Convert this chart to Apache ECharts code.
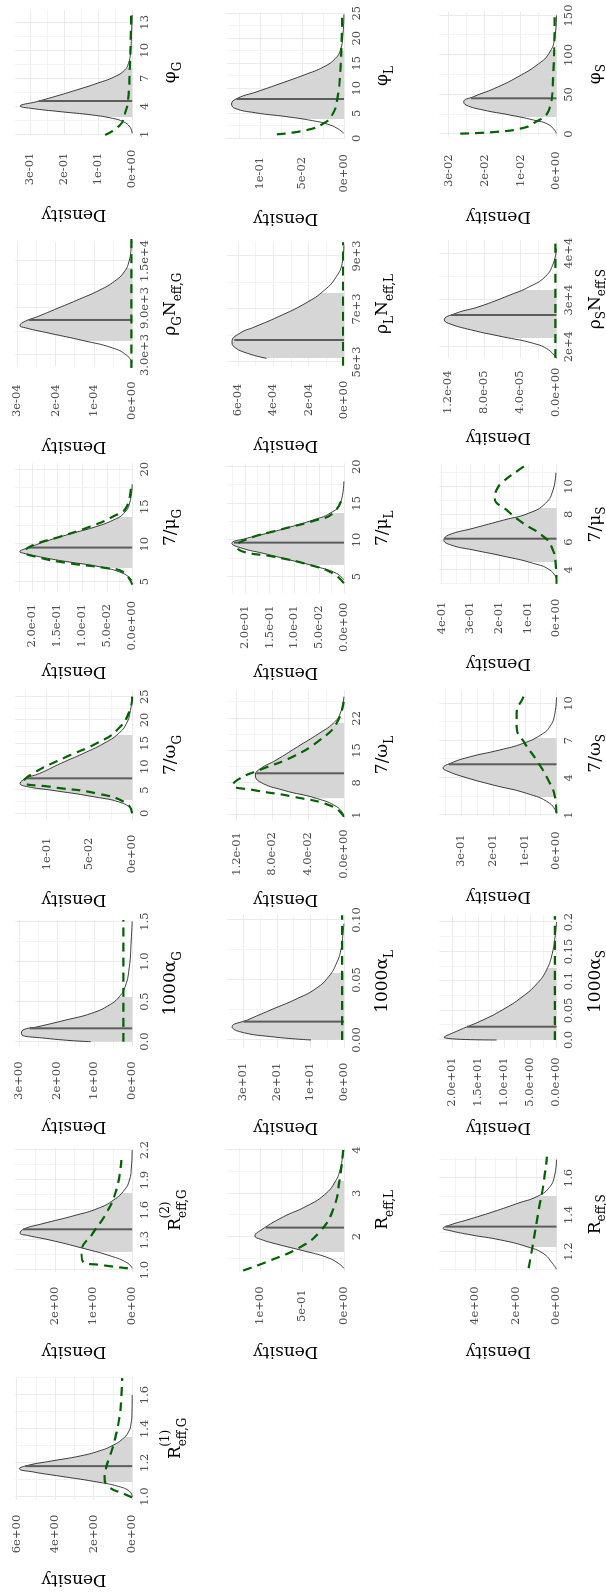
<!DOCTYPE html>
<html>
<head>
<meta charset="utf-8">
<script src="https://cdn.jsdelivr.net/npm/echarts@6.0.0/dist/echarts.min.js"></script>
<style>
html, body { margin: 0; padding: 0; background: #fff; }
#page { position: relative; width: 606px; height: 1596px; overflow: hidden; background: #fff; }
/* the figure is laid out landscape and turned a quarter turn to fit the page */
#chart { position: absolute; left: 0; top: 0; width: 1596px; height: 606px;
         transform-origin: 0 0; transform: translate(0px, 1596px) rotate(-90deg); }
</style>
</head>
<body>
<div id="page"><div id="chart"></div></div>
<script>
// ---------------- posterior densities [value, density] ----------------
const R1G_post = [[1.0,0],[1.03,0.12],[1.06,0.7],[1.09,2.0],[1.12,3.7],[1.145,5.1],[1.165,5.85],[1.185,5.4],[1.21,4.2],[1.24,2.7],[1.27,1.7],[1.3,1.05],[1.34,0.5],[1.38,0.2],[1.43,0.06],[1.5,0.01],[1.6,0]];
const R2G_post = [[1.017,0],[1.067,0.11],[1.133,0.5],[1.217,1.27],[1.3,2.13],[1.345,2.7],[1.37,2.9],[1.41,2.8],[1.46,2.35],[1.55,1.44],[1.617,0.88],[1.7,0.48],[1.8,0.2],[1.9,0.07],[2.03,0.02],[2.2,0]];
const aG_post = [[0,1.1],[0.042,2.28],[0.1,2.94],[0.146,2.9],[0.1875,2.5],[0.27,1.77],[0.355,1.08],[0.46,0.6],[0.5625,0.34],[0.6875,0.185],[0.9375,0.075],[1.27,0.025],[1.5,0]];
const wG_post = [[0.7,0],[2.14,0.0105],[3.57,0.0456],[5.0,0.096],[5.7,0.122],[6.43,0.131],[7.5,0.124],[8.57,0.108],[10.7,0.0835],[12.85,0.057],[15,0.033],[17.1,0.016],[19.3,0.0065],[22.1,0.002],[25,0]];
const mG_post = [[5.2,0],[6.1,0.018],[7.0,0.066],[7.67,0.13],[8.34,0.186],[8.8,0.217],[9.0,0.224],[9.5,0.208],[10.57,0.164],[11.5,0.117],[12.35,0.072],[13.25,0.037],[14.1,0.017],[15.5,0.005],[18,0]];
const nG_post = [[2072,0],[3000,0.15e-4],[3914,0.52e-4],[4842,1.28e-4],[5770,2.15e-4],[6462,2.78e-4],[6780,2.93e-4],[7300,2.8e-4],[7850,2.5e-4],[9000,1.93e-4],[10150,1.37e-4],[11310,0.84e-4],[12460,0.45e-4],[13610,0.21e-4],[15000,0.08e-4],[17000,0.02e-4],[18200,0]];
const pG_post = [[1.11,0],[1.81,0.007],[2.35,0.026],[2.71,0.058],[3.07,0.118],[3.42,0.21],[3.79,0.3],[4.03,0.33],[4.49,0.283],[5.03,0.23],[5.75,0.164],[6.47,0.103],[7.17,0.052],[7.89,0.022],[8.6,0.011],[9.68,0.005],[11.8,0.002],[13.8,0]];

const RL_post = [[1.27,0],[1.38,0.06],[1.53,0.21],[1.67,0.47],[1.83,0.8],[1.94,0.99],[2.02,1.06],[2.15,0.99],[2.46,0.72],[2.7,0.45],[2.97,0.23],[3.28,0.1],[3.55,0.045],[3.9,0.01],[4.0,0]];
const aL_post = [[0,9.8],[0.0028,21.9],[0.0069,31.1],[0.011,33.4],[0.0167,28.8],[0.025,21.9],[0.0347,13.8],[0.043,8.3],[0.053,4.5],[0.064,2.2],[0.075,0.9],[0.089,0.25],[0.097,0]];
const wL_post = [[1,0],[2.8,0.008],[4.6,0.0305],[6.4,0.068],[8.2,0.094],[9.7,0.099],[11.1,0.093],[12.9,0.076],[15.8,0.052],[18.7,0.028],[20.9,0.012],[23.1,0.004],[26.7,0]];
const mL_post = [[4.55,0],[5.45,0.015],[6.36,0.055],[7.28,0.109],[8.19,0.163],[8.87,0.205],[9.55,0.226],[10.2,0.198],[10.9,0.156],[11.8,0.107],[12.73,0.062],[13.65,0.028],[15,0.007],[18,0]];
const nL_post = [[5140,4.37e-4],[5328,5.46e-4],[5577,6.22e-4],[5766,6.33e-4],[6083,5.89e-4],[6332,5.02e-4],[6709,3.71e-4],[7215,2.18e-4],[7717,1.09e-4],[8219,0.43e-4],[8725,0.1e-4],[9400,0]];
const pL_post = [[1.0,0],[2.0,0.008],[2.86,0.02],[3.52,0.037],[4.32,0.068],[5.12,0.106],[6.0,0.13],[6.86,0.134],[8.0,0.127],[9.3,0.104],[11.0,0.075],[12.7,0.047],[14.3,0.024],[16,0.01],[17.7,0.004],[21,0.001],[24.8,0]];

const RS_post = [[1.104,0],[1.137,0.2],[1.19,0.65],[1.227,1.45],[1.264,2.77],[1.291,4.2],[1.314,5.23],[1.327,5.57],[1.345,5.23],[1.372,4.41],[1.417,3.1],[1.463,1.9],[1.5,0.95],[1.545,0.38],[1.61,0.1],[1.7,0]];
const aS_post = [[0,11.5],[0.0046,21.6],[0.017,18.6],[0.034,14.1],[0.051,10.4],[0.073,6.6],[0.096,3.7],[0.119,1.9],[0.147,0.8],[0.18,0.2],[0.2,0]];
const wS_post = [[1.14,0],[1.94,0.021],[2.75,0.095],[3.42,0.2],[4.09,0.295],[4.57,0.347],[4.77,0.358],[5.17,0.335],[5.7,0.272],[6.24,0.18],[6.78,0.105],[7.45,0.05],[8.12,0.021],[9.2,0.005],[10.5,0]];
const mS_post = [[3.4,0],[4.0,0.023],[4.48,0.081],[5.0,0.186],[5.44,0.29],[5.8,0.368],[6.16,0.392],[6.52,0.375],[7.0,0.29],[7.6,0.182],[8.08,0.097],[8.8,0.038],[9.75,0.012],[11.0,0.002]];
const nS_post = [[17500,0],[19300,0.086e-4],[20730,0.258e-4],[22140,0.6e-4],[23580,0.944e-4],[25010,1.2e-4],[25720,1.245e-4],[27150,1.117e-4],[28570,0.86e-4],[31070,0.516e-4],[32850,0.3e-4],[35000,0.125e-4],[37860,0.035e-4],[41000,0]];
const pS_post = [[0.9,0],[11.4,0.002],[17.7,0.0064],[24,0.0129],[30.4,0.0204],[36.7,0.0252],[40.9,0.0258],[47.2,0.0231],[57.8,0.0172],[72.5,0.0107],[89.5,0.0048],[102,0.0021],[121,0.0005],[150,0]];

// ---------------- prior densities [value, density] ----------------
const R1G_prior = [[0.995,0],[1.02,0.5],[1.054,1.17],[1.107,1.43],[1.176,1.34],[1.235,1.17],[1.33,0.91],[1.47,0.66],[1.57,0.57],[1.7,0.52]];
const R2G_prior = [[1.017,0.11],[1.05,0.8],[1.083,1.27],[1.183,1.31],[1.367,1.02],[1.567,0.67],[1.8,0.41],[2.1,0.28]];
const aG_prior = [[0,0.235],[1.52,0.235]];
const wG_prior = [[0,0],[2.14,0.0065],[4.28,0.0416],[5.7,0.096],[6.78,0.127],[8.57,0.116],[12.1,0.077],[15,0.0416],[17.8,0.018],[22.1,0.0027],[25,0]];
const mG_prior = [[4.6,0],[6.3,0.018],[6.8,0.05],[7.5,0.13],[8.3,0.19],[9.0,0.214],[9.9,0.197],[11.0,0.144],[12.35,0.084],[13.7,0.038],[15,0.011],[18,0.002]];
const nG_prior = [[1300,0.02e-4],[17880,0.02e-4]];
const pG_prior = [[0.93,0.08],[1.99,0.036],[3.25,0.021],[4.67,0.012],[8.2,0.007],[11.7,0.004],[13.8,0.003]];

const RL_prior = [[1.22,1.2],[1.45,0.88],[1.76,0.52],[2.11,0.29],[2.62,0.13],[3.31,0.05],[4.0,0.01]];
const aL_prior = [[0,0.5],[0.104,0.5]];
const wL_prior = [[0.6,0],[2.8,0.012],[4.98,0.0567],[6.43,0.1013],[7.52,0.124],[8.97,0.116],[10.8,0.094],[13.7,0.0567],[17.3,0.0268],[20.9,0.0082],[26,0]];
const mL_prior = [[4.1,0],[5.45,0.022],[6.6,0.069],[7.73,0.142],[8.4,0.203],[9.1,0.216],[10.1,0.196],[11.4,0.129],[12.73,0.055],[13.65,0.022],[15.9,0.002]];
const nL_prior = [[4860,0.05e-4],[9520,0.05e-4]];
const pL_prior = [[0.8,0.08],[1.66,0.044],[3.0,0.024],[4.66,0.014],[7.66,0.008],[14.3,0.004],[24.4,0.002]];

const RS_prior = [[1.11,1.37],[1.264,1.12],[1.427,0.87],[1.572,0.63],[1.716,0.47]];
const aS_prior = [[0,0.3],[0.21,0.3]];
const wS_prior = [[1.14,0],[2.48,0.005],[3.82,0.026],[5.43,0.063],[6.78,0.1],[8.12,0.126],[9.2,0.126],[10.5,0.105],[11.0,0.098]];
const mS_prior = [[3.0,0],[4.24,0.002],[5.68,0.017],[6.52,0.052],[7.36,0.116],[8.32,0.174],[9.16,0.215],[9.75,0.209],[10.35,0.186],[11.24,0.128],[11.5,0.11]];
const nS_prior = [[17600,0.013e-4],[42700,0.013e-4]];
const pS_prior = [[0.5,0.0268],[3,0.016],[7.2,0.0097],[13.5,0.0064],[30.4,0.0021],[64,0.001],[150,0.0005]];

// ---------------- 95% interval [lo, hi] and median [value, density] ----------------
const R1G_ci = [1.089, 1.354], R1G_med = [1.18, 5.55];
const R2G_ci = [1.183, 1.767], R2G_med = [1.407, 2.82];
const aG_ci = [0, 0.56],       aG_med = [0.167, 2.72];
const wG_ci = [2.85, 16.8],    wG_med = [7.5, 0.124];
const mG_ci = [6.8, 13.6],     mG_med = [9.55, 0.206];
const nG_ci = [4842, 14080],   nG_med = [7474, 2.7e-4];
const pG_ci = [2.85, 8.15],    pG_med = [4.57, 0.275];
const RL_ci = [1.65, 3.29],    RL_med = [2.21, 0.93];
const aL_ci = [0, 0.0556],     aL_med = [0.0153, 30.0];
const wL_ci = [4.7, 21.0],     wL_med = [10.06, 0.098];
const mL_ci = [6.6, 13.65],    mL_med = [9.64, 0.222];
const nL_ci = [5140, 7592],    nL_med = [5830, 6.2e-4];
const pL_ci = [3.8, 17.5],     pL_med = [7.86, 0.128];
const RS_ci = [1.227, 1.5],    RS_med = [1.336, 5.45];
const aS_ci = [0, 0.1215],     aS_med = [0.0225, 17.2];
const wS_ci = [2.48, 7.19],    wS_med = [5.09, 0.34];
const mS_ci = [4.6, 8.44],     mS_med = [6.25, 0.39];
const nS_ci = [21800, 32140],  nS_med = [26790, 1.17e-4];
const pS_ci = [21.1, 106],     pS_med = [45.2, 0.0238];

// ---------------- tick values and labels ----------------
const R1G_xt = [1.0, 1.2, 1.4, 1.6], R1G_xl = ['1.0', '1.2', '1.4', '1.6'];
const R1G_yt = [0, 2, 4, 6],         R1G_yl = ['0e+00', '2e+00', '4e+00', '6e+00'];
const R2G_xt = [1.0, 1.3, 1.6, 1.9, 2.2], R2G_xl = ['1.0', '1.3', '1.6', '1.9', '2.2'];
const R2G_yt = [0, 1, 2],            R2G_yl = ['0e+00', '1e+00', '2e+00'];
const aG_xt = [0, 0.5, 1, 1.5],      aG_xl = ['0.0', '0.5', '1.0', '1.5'];
const aG_yt = [0, 1, 2, 3],          aG_yl = ['0e+00', '1e+00', '2e+00', '3e+00'];
const wG_xt = [0, 5, 10, 15, 20, 25], wG_xl = ['0', '5', '10', '15', '20', '25'];
const wG_yt = [0, 0.05, 0.1],        wG_yl = ['0e+00', '5e-02', '1e-01'];
const mG_xt = [5, 10, 15, 20],       mG_xl = ['5', '10', '15', '20'];
const mG_yt = [0, 0.05, 0.1, 0.15, 0.2], mG_yl = ['0.0e+00', '5.0e-02', '1.0e-01', '1.5e-01', '2.0e-01'];
const nG_xt = [3000, 9000, 15000],   nG_xl = ['3.0e+3', '9.0e+3', '1.5e+4'];
const nG_yt = [0, 1e-4, 2e-4, 3e-4], nG_yl = ['0e+00', '1e-04', '2e-04', '3e-04'];
const pG_xt = [1, 4, 7, 10, 13],     pG_xl = ['1', '4', '7', '10', '13'];
const pG_yt = [0, 0.1, 0.2, 0.3],    pG_yl = ['0e+00', '1e-01', '2e-01', '3e-01'];

const RL_xt = [2, 3, 4],             RL_xl = ['2', '3', '4'];
const RL_yt = [0, 0.5, 1],           RL_yl = ['0e+00', '5e-01', '1e+00'];
const aL_xt = [0, 0.05, 0.1],        aL_xl = ['0.00', '0.05', '0.10'];
const aL_yt = [0, 10, 20, 30],       aL_yl = ['0e+00', '1e+01', '2e+01', '3e+01'];
const wL_xt = [1, 8, 15, 22],        wL_xl = ['1', '8', '15', '22'];
const wL_yt = [0, 0.04, 0.08, 0.12], wL_yl = ['0.0e+00', '4.0e-02', '8.0e-02', '1.2e-01'];
const mL_xt = [5, 10, 15, 20],       mL_xl = ['5', '10', '15', '20'];
const mL_yt = [0, 0.05, 0.1, 0.15, 0.2], mL_yl = ['0.0e+00', '5.0e-02', '1.0e-01', '1.5e-01', '2.0e-01'];
const nL_xt = [5000, 7000, 9000],    nL_xl = ['5e+3', '7e+3', '9e+3'];
const nL_yt = [0, 2e-4, 4e-4, 6e-4], nL_yl = ['0e+00', '2e-04', '4e-04', '6e-04'];
const pL_xt = [0, 5, 10, 15, 20, 25], pL_xl = ['0', '5', '10', '15', '20', '25'];
const pL_yt = [0, 0.05, 0.1],        pL_yl = ['0e+00', '5e-02', '1e-01'];

const RS_xt = [1.2, 1.4, 1.6],       RS_xl = ['1.2', '1.4', '1.6'];
const RS_yt = [0, 2, 4],             RS_yl = ['0e+00', '2e+00', '4e+00'];
const aS_xt = [0, 0.05, 0.1, 0.15, 0.2], aS_xl = ['0.0', '0.05', '0.1', '0.15', '0.2'];
const aS_yt = [0, 5, 10, 15, 20],    aS_yl = ['0.0e+00', '5.0e+00', '1.0e+01', '1.5e+01', '2.0e+01'];
const wS_xt = [1, 4, 7, 10],         wS_xl = ['1', '4', '7', '10'];
const wS_yt = [0, 0.1, 0.2, 0.3],    wS_yl = ['0e+00', '1e-01', '2e-01', '3e-01'];
const mS_xt = [4, 6, 8, 10],         mS_xl = ['4', '6', '8', '10'];
const mS_yt = [0, 0.1, 0.2, 0.3, 0.4], mS_yl = ['0e+00', '1e-01', '2e-01', '3e-01', '4e-01'];
const nS_xt = [20000, 30000, 40000], nS_xl = ['2e+4', '3e+4', '4e+4'];
const nS_yt = [0, 4e-5, 8e-5, 1.2e-4], nS_yl = ['0.0e+00', '4.0e-05', '8.0e-05', '1.2e-04'];
const pS_xt = [0, 50, 100, 150],     pS_xl = ['0', '50', '100', '150'];
const pS_yt = [0, 0.01, 0.02, 0.03], pS_yl = ['0e+00', '1e-02', '2e-02', '3e-02'];

// ---------------- layout ----------------
// y0/y1: right and left edges of each panel measured from the right of the landscape figure;
// xr: value-axis range, dmax: top of the density axis
const FIG_W = 1596;
const ROW_TOP = { G: 15, L: 226.7, S: 439.3 };
const ROW_H = 118;
const FONT = 'DejaVu Serif';

const panels = [
  { row: 'G', y0: 1376.7, y1: 1500, xr: [0.98, 1.708], dmax: 6.08, post: R1G_post, prior: R1G_prior, ci: R1G_ci, med: R1G_med, xt: R1G_xt, xl: R1G_xl, yt: R1G_yt, yl: R1G_yl, title: '{m|R}{s|eff,G}', sup: '(1)' },
  { row: 'G', y0: 1148, y1: 1272, xr: [0.98, 2.22], dmax: 3.03, post: R2G_post, prior: R2G_prior, ci: R2G_ci, med: R2G_med, xt: R2G_xt, xl: R2G_xl, yt: R2G_yt, yl: R2G_yl, title: '{m|R}{s|eff,G}', sup: '(2)' },
  { row: 'G', y0: 920, y1: 1046.7, xr: [-0.0625, 1.52], dmax: 3.11, post: aG_post, prior: aG_prior, ci: aG_ci, med: aG_med, xt: aG_xt, xl: aG_xl, yt: aG_yt, yl: aG_yl, title: '{m|1000α}{s|G}' },
  { row: 'G', y0: 690, y1: 820, xr: [-1.43, 26.43], dmax: 0.137, post: wG_post, prior: wG_prior, ci: wG_ci, med: wG_med, xt: wG_xt, xl: wG_xl, yt: wG_yt, yl: wG_yl, title: '{m|7/ω}{s|G}' },
  { row: 'G', y0: 463.3, y1: 591.7, xr: [3.66, 20.8], dmax: 0.2337, post: mG_post, prior: mG_prior, ci: mG_ci, med: mG_med, xt: mG_xt, xl: mG_xl, yt: mG_yt, yl: mG_yl, title: '{m|7/μ}{s|G}' },
  { row: 'G', y0: 241.7, y1: 366.7, xr: [1506, 17465], dmax: 3.06e-4, post: nG_post, prior: nG_prior, ci: nG_ci, med: nG_med, xt: nG_xt, xl: nG_xl, yt: nG_yt, yl: nG_yl, title: '{m|ρ}{s|G}{m|N}{s|eff,G}' },
  { row: 'G', y0: 10, y1: 135, xr: [0.925, 14.32], dmax: 0.3456, post: pG_post, prior: pG_prior, ci: pG_ci, med: pG_med, xt: pG_xt, xl: pG_xl, yt: pG_yt, yl: pG_yl, title: '{m|φ}{s|G}' },

  { row: 'L', y0: 1148, y1: 1271.7, xr: [1.193, 4.046], dmax: 1.396, post: RL_post, prior: RL_prior, ci: RL_ci, med: RL_med, xt: RL_xt, xl: RL_xl, yt: RL_yt, yl: RL_yl, title: '{m|R}{s|eff,L}' },
  { row: 'L', y0: 915, y1: 1048, xr: [-0.0067, 0.1042], dmax: 35.0, post: aL_post, prior: aL_prior, ci: aL_ci, med: aL_med, xt: aL_xt, xl: aL_xl, yt: aL_yt, yl: aL_yl, title: '{m|1000α}{s|L}' },
  { row: 'L', y0: 690, y1: 820, xr: [-0.087, 28.15], dmax: 0.131, post: wL_post, prior: wL_prior, ci: wL_ci, med: wL_med, xt: wL_xt, xl: wL_xl, yt: wL_yt, yl: wL_yl, title: '{m|7/ω}{s|L}' },
  { row: 'L', y0: 463.3, y1: 593.3, xr: [2.73, 20.46], dmax: 0.2365, post: mL_post, prior: mL_prior, ci: mL_ci, med: mL_med, xt: mL_xt, xl: mL_xl, yt: mL_yt, yl: mL_yl, title: '{m|7/μ}{s|L}' },
  { row: 'L', y0: 242, y1: 366, xr: [4849, 9528], dmax: 6.63e-4, post: nL_post, prior: nL_prior, ci: nL_ci, med: nL_med, xt: nL_xt, xl: nL_xl, yt: nL_yt, yl: nL_yl, title: '{m|ρ}{s|L}{m|N}{s|eff,L}' },
  { row: 'L', y0: 12.7, y1: 139.3, xr: [-0.2, 25.12], dmax: 0.1398, post: pL_post, prior: pL_prior, ci: pL_ci, med: pL_med, xt: pL_xt, xl: pL_xl, yt: pL_yt, yl: pL_yl, title: '{m|φ}{s|L}' },

  { row: 'S', y0: 1156.7, y1: 1271.7, xr: [1.091, 1.716], dmax: 5.76, post: RS_post, prior: RS_prior, ci: RS_ci, med: RS_med, xt: RS_xt, xl: RS_xl, yt: RS_yt, yl: RS_yl, title: '{m|R}{s|eff,S}' },
  { row: 'S', y0: 915, y1: 1048, xr: [-0.0136, 0.2119], dmax: 22.5, post: aS_post, prior: aS_prior, ci: aS_ci, med: aS_med, xt: aS_xt, xl: aS_xl, yt: aS_yt, yl: aS_yl, title: '{m|1000α}{s|S}' },
  { row: 'S', y0: 690, y1: 816.7, xr: [0.863, 11.08], dmax: 0.370, post: wS_post, prior: wS_prior, ci: wS_ci, med: wS_med, xt: wS_xt, xl: wS_xl, yt: wS_yt, yl: wS_yl, title: '{m|7/ω}{s|S}' },
  { row: 'S', y0: 465, y1: 584, xr: [2.99, 11.55], dmax: 0.408, post: mS_post, prior: mS_prior, ci: mS_ci, med: mS_med, xt: mS_xt, xl: mS_xl, yt: mS_yt, yl: mS_yl, title: '{m|7/μ}{s|S}' },
  { row: 'S', y0: 240, y1: 358.3, xr: [17516, 42848], dmax: 1.30e-4, post: nS_post, prior: nS_prior, ci: nS_ci, med: nS_med, xt: nS_xt, xl: nS_xl, yt: nS_yt, yl: nS_yl, title: '{m|ρ}{s|S}{m|N}{s|eff,S}' },
  { row: 'S', y0: 11.7, y1: 136.7, xr: [-3.4, 154.8], dmax: 0.0326, post: pS_post, prior: pS_prior, ci: pS_ci, med: pS_med, xt: pS_xt, xl: pS_xl, yt: pS_yt, yl: pS_yl, title: '{m|φ}{s|S}' }
];

// ---------------- helpers ----------------
// minor breaks half way between the labelled ones, kept inside the axis range
function minorBreaks(t, lo, hi) {
  const step = t[1] - t[0];
  const out = [];
  for (let k = -1; k < t.length; k++) {
    const v = (k < 0 ? t[0] - step : t[k]) + step / 2;
    if (v > lo && v < hi) out.push(v);
  }
  return out;
}
function labeler(ticks, labels) {
  return function (v) {
    for (let k = 0; k < ticks.length; k++) {
      if (Math.abs(ticks[k] - v) <= 1e-9 * Math.max(1e-3, Math.abs(ticks[k]))) return labels[k];
    }
    return '';
  };
}

const titleRich = {
  m: { fontFamily: FONT, fontSize: 17, lineHeight: 26, color: '#000' },
  s: { fontFamily: FONT, fontSize: 12, lineHeight: 14, verticalAlign: 'bottom', color: '#000' }
};
const tickText = { fontFamily: FONT, fontSize: 11.5, color: '#4d4d4d' };
const majorGrid = { show: true, lineStyle: { color: '#ebebeb', width: 1.1 } };
const minorGrid = { show: true, lineStyle: { color: '#f3f3f3', width: 1 } };
const FILL = '#d6d6d6';

const option = { animation: false, backgroundColor: '#ffffff', grid: [], xAxis: [], yAxis: [], series: [], visualMap: [] };

panels.forEach(function (p, i) {
  const dmin = -0.007 * p.dmax;
  option.grid.push({ left: FIG_W - p.y1, top: ROW_TOP[p.row], width: p.y1 - p.y0, height: ROW_H, containLabel: false, outerBoundsMode: 'none' });

  // value axis (labelled breaks + title), and a companion carrying the minor breaks
  option.xAxis.push({
    gridIndex: i, type: 'value', position: 'bottom', min: p.xr[0], max: p.xr[1],
    axisLine: { show: false }, axisTick: { show: false, customValues: p.xt },
    axisLabel: Object.assign({ customValues: p.xt, formatter: labeler(p.xt, p.xl), margin: 6 }, tickText),
    splitLine: majorGrid,
    name: p.title, nameLocation: 'middle', nameGap: p.sup ? 30 : 25, nameMoveOverlap: false,
    nameTextStyle: { rich: titleRich }
  });
  option.xAxis.push({
    gridIndex: i, type: 'value', position: 'bottom', min: p.xr[0], max: p.xr[1],
    axisLine: { show: false }, axisTick: { show: false, customValues: minorBreaks(p.xt, p.xr[0], p.xr[1]) },
    axisLabel: { show: false }, splitLine: minorGrid, z: 0,
    name: p.sup || '', nameLocation: 'middle', nameGap: 27, nameMoveOverlap: false,
    nameTextStyle: { fontFamily: FONT, fontSize: 12, color: '#000' }
  });

  // density axis
  option.yAxis.push({
    gridIndex: i, type: 'value', position: 'left', min: dmin, max: p.dmax,
    axisLine: { show: false }, axisTick: { show: false, customValues: p.yt },
    axisLabel: Object.assign({ customValues: p.yt, formatter: labeler(p.yt, p.yl), margin: 34, align: 'center' }, tickText),
    splitLine: majorGrid,
    name: 'Density', nameLocation: 'middle', nameRotate: 90, nameGap: 71, nameMoveOverlap: false,
    nameTextStyle: { fontFamily: FONT, fontSize: 17, color: '#000' }
  });
  option.yAxis.push({
    gridIndex: i, type: 'value', position: 'left', min: dmin, max: p.dmax,
    axisLine: { show: false }, axisTick: { show: false, customValues: minorBreaks(p.yt, dmin, p.dmax) },
    axisLabel: { show: false }, splitLine: minorGrid, z: 0
  });

  const xi = 2 * i, yi = 2 * i;
  const postIndex = option.series.length;
  // posterior curve; its shaded 95% interval comes from the visual map below
  option.series.push({
    type: 'line', xAxisIndex: xi, yAxisIndex: yi, data: p.post, showSymbol: false, silent: true,
    smooth: 0.5, z: 3,
    lineStyle: { color: '#000', width: 0.75 }, areaStyle: { opacity: 1 }
  });
  // median
  option.series.push({
    type: 'line', xAxisIndex: xi, yAxisIndex: yi, data: [[p.med[0], 0], [p.med[0], p.med[1]]],
    showSymbol: false, silent: true, z: 4, lineStyle: { color: '#5c5c5c', width: 2 }
  });
  // prior
  option.series.push({
    type: 'line', xAxisIndex: xi, yAxisIndex: yi, data: p.prior, showSymbol: false, silent: true,
    smooth: 0.5, z: 5,
    lineStyle: { color: '#006400', width: 2.2, type: [9, 6] }
  });
  option.visualMap.push({
    type: 'piecewise', show: false, seriesIndex: postIndex, dimension: 0,
    pieces: [{ gte: p.ci[0], lte: p.ci[1], color: FILL }],
    outOfRange: { color: 'rgba(0,0,0,0)' }
  });
});

const chart = echarts.init(document.getElementById('chart'), null, { renderer: 'canvas', width: 1596, height: 606 });
chart.setOption(option);
</script>
</body>
</html>
